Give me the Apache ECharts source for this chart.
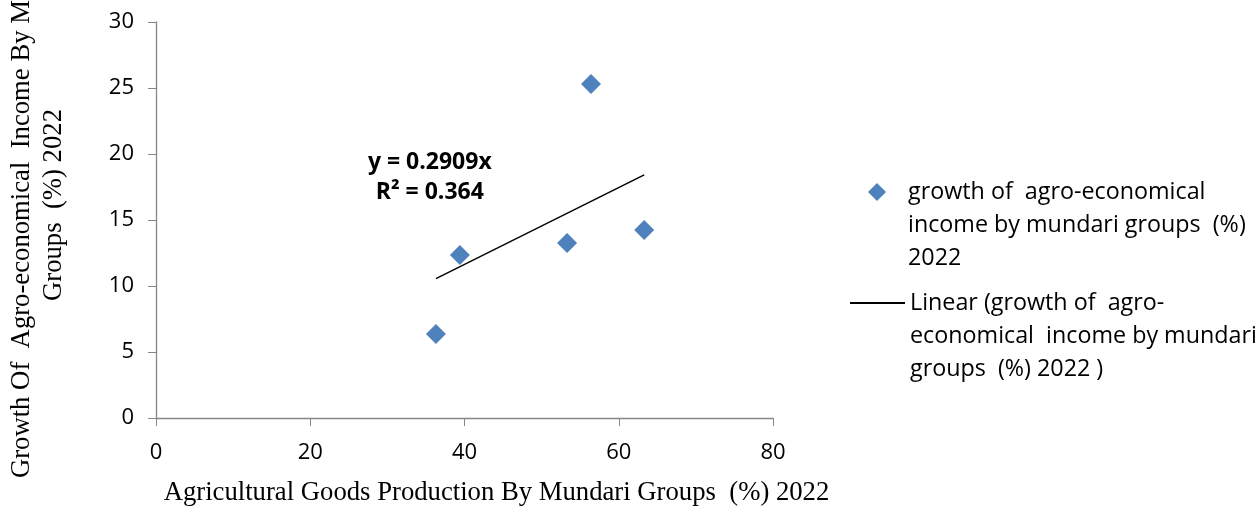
<!DOCTYPE html>
<html>
<head>
<meta charset="utf-8">
<script src="https://cdn.jsdelivr.net/npm/echarts@6/dist/echarts.min.js"></script>
<style>html,body{margin:0;padding:0;background:#fff;}#chart{width:1260px;height:508px;}</style>
</head>
<body>
<div id="chart"></div>
<script>
// Data
const productionX = [36.3, 39.4, 53.3, 56.4, 63.3];
const incomeY = [6.36, 12.35, 13.26, 25.3, 14.24];
const trendSlope = 0.2909;
const trendR2 = 0.364;
const xTicks = [0, 20, 40, 60, 80];
const yTicks = [0, 5, 10, 15, 20, 25, 30];
const seriesName = 'growth of  agro-economical  income by mundari groups  (%) 2022';
const trendName = 'Linear (growth of  agro-economical  income by mundari groups  (%) 2022 )';
const legendLines = {};
legendLines[seriesName] = '\n\ngrowth of  agro-economical\nincome by mundari groups  (%)\n2022';
legendLines[trendName] = '\n\nLinear (growth of  agro-\neconomical  income by mundari\ngroups  (%) 2022 )';

const points = productionX.map((x, i) => [x, incomeY[i]]);
const xMin = Math.min(...productionX), xMax = Math.max(...productionX);
const trend = [[xMin, trendSlope * xMin], [xMax, trendSlope * xMax]];

const sansFont = 'Open Sans';
const serifFont = 'Liberation Serif';

const chart = echarts.init(document.getElementById('chart'));
chart.setOption({
  animation: false,
  grid: { left: 156, right: 487, top: 22, bottom: 90, containLabel: false, outerBoundsMode: 'none' },
  xAxis: {
    type: 'value', min: xTicks[0], max: xTicks[xTicks.length - 1], interval: 20,
    name: 'Agricultural Goods Production By Mundari Groups  (%) 2022',
    nameLocation: 'middle', nameGap: 61,
    nameTextStyle: { fontFamily: serifFont, fontSize: 26.7, color: '#000', padding: [0, 0, 0, 64] },
    axisLine: { show: true, lineStyle: { color: '#868686', width: 1.3 } },
    axisTick: { show: true, inside: false, length: 8, lineStyle: { color: '#868686' } },
    axisLabel: { fontFamily: sansFont, fontSize: 22, color: '#000', margin: 24 },
    splitLine: { show: false }
  },
  yAxis: {
    type: 'value', min: yTicks[0], max: yTicks[yTicks.length - 1], interval: 5,
    name: 'Growth Of  Agro-economical  Income By Mundari\nGroups  (%) 2022',
    nameLocation: 'middle', nameGap: 86, nameRotate: 90,
    nameTextStyle: { fontFamily: serifFont, fontSize: 26.7, color: '#000', lineHeight: 32, padding: [0, 0, 0, 30] },
    axisLine: { show: true, lineStyle: { color: '#868686', width: 1.3 } },
    axisTick: { show: true, inside: false, length: 8, lineStyle: { color: '#868686' } },
    axisLabel: { fontFamily: sansFont, fontSize: 22, color: '#000', margin: 22 },
    splitLine: { show: false }
  },
  legend: [
    {
      data: [seriesName], orient: 'vertical', left: 863, top: 104.5,
      icon: 'diamond', itemWidth: 18, itemHeight: 18,
      formatter: n => legendLines[n],
      textStyle: { fontFamily: sansFont, fontSize: 23.3, color: '#000', lineHeight: 33, padding: [0, 0, 0, 17] }
    },
    {
      data: [trendName], orient: 'vertical', left: 845, top: 215.5,
      icon: 'rect', itemWidth: 55, itemHeight: 2,
      formatter: n => legendLines[n],
      textStyle: { fontFamily: sansFont, fontSize: 23.3, color: '#000', lineHeight: 33 }
    }
  ],
  series: [
    {
      name: seriesName, type: 'scatter', data: points,
      symbol: 'diamond', symbolSize: 20,
      itemStyle: { color: '#4F81BD', opacity: 1 }
    },
    {
      name: trendName, type: 'line', data: trend,
      symbol: 'none', lineStyle: { color: '#000', width: 1.5 },
      itemStyle: { color: '#000' },
      markPoint: {
        symbol: 'circle', symbolSize: 1, itemStyle: { color: 'transparent' },
        label: {
          show: true, position: 'inside', color: '#000',
          fontFamily: sansFont, fontSize: 23, fontWeight: 'bold', lineHeight: 30,
          formatter: 'y = ' + trendSlope + 'x\nR² = ' + trendR2
        },
        data: [{ coord: [35.5, 18.2] }]
      }
    }
  ]
});
</script>
</body>
</html>
